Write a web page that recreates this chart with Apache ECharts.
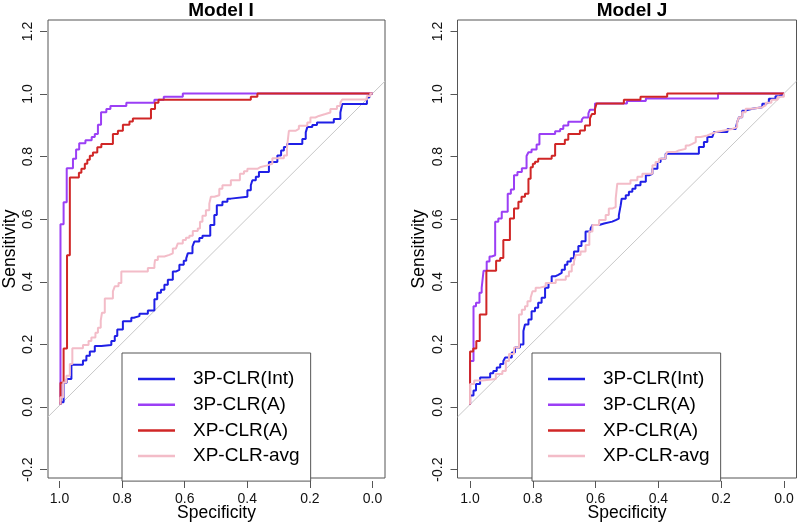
<!DOCTYPE html>
<html>
<head>
<meta charset="utf-8">
<script src="https://cdn.jsdelivr.net/npm/echarts@6/dist/echarts.min.js"></script>
<style>
html,body{margin:0;padding:0;background:#fff;}
#chart{width:799px;height:527px;}
</style>
</head>
<body>
<div id="chart"></div>
<script>
// ---- data ----
const panelTitles = ['Model I', 'Model J'];
const seriesNames = ['3P-CLR(Int)', '3P-CLR(A)', 'XP-CLR(A)', 'XP-CLR-avg'];
const specTickRange = [0, 1.0];      // x tick labels 1.0 ... 0.0 every 0.2
const sensTickRange = [-0.2, 1.2];   // y tick labels -0.2 ... 1.2 every 0.2
const tickStep = 0.2;
const chanceLine = [[1.04, -0.04], [-0.04, 1.04]];

// Model I  (specificity, sensitivity)
const modelI_int = [[1,0],[1,0.007],[0.99,0.007],[0.99,0.07],[0.98,0.07],[0.98,0.082],[0.965,0.082],[0.965,0.128],[0.928,0.128],[0.928,0.141],[0.917,0.141],[0.917,0.157],[0.906,0.157],[0.906,0.17],[0.89,0.17],[0.89,0.188],[0.869,0.188],[0.869,0.191],[0.837,0.191],[0.837,0.204],[0.826,0.204],[0.826,0.22],[0.818,0.22],[0.818,0.241],[0.80,0.241],[0.80,0.268],[0.773,0.268],[0.773,0.279],[0.765,0.279],[0.765,0.284],[0.747,0.284],[0.747,0.292],[0.72,0.292],[0.72,0.302],[0.699,0.302],[0.699,0.338],[0.69,0.338],[0.69,0.359],[0.678,0.359],[0.678,0.369],[0.667,0.369],[0.667,0.385],[0.656,0.385],[0.656,0.401],[0.64,0.401],[0.64,0.428],[0.629,0.428],[0.629,0.433],[0.619,0.433],[0.619,0.449],[0.605,0.449],[0.605,0.462],[0.597,0.462],[0.597,0.47],[0.592,0.47],[0.592,0.486],[0.577,0.486],[0.577,0.508],[0.571,0.508],[0.571,0.524],[0.555,0.524],[0.555,0.535],[0.545,0.535],[0.545,0.543],[0.52,0.543],[0.52,0.577],[0.507,0.577],[0.507,0.609],[0.499,0.609],[0.499,0.641],[0.481,0.641],[0.481,0.652],[0.465,0.652],[0.465,0.662],[0.454,0.662],[0.454,0.668],[0.401,0.668],[0.401,0.689],[0.39,0.689],[0.39,0.705],[0.385,0.705],[0.385,0.721],[0.374,0.721],[0.374,0.732],[0.364,0.732],[0.364,0.748],[0.332,0.748],[0.332,0.78],[0.305,0.78],[0.305,0.801],[0.293,0.801],[0.293,0.817],[0.284,0.817],[0.284,0.828],[0.274,0.828],[0.274,0.838],[0.225,0.838],[0.225,0.854],[0.214,0.854],[0.214,0.875],[0.209,0.875],[0.209,0.892],[0.193,0.892],[0.193,0.899],[0.178,0.899],[0.178,0.907],[0.124,0.907],[0.124,0.918],[0.103,0.918],[0.103,0.939],[0.097,0.939],[0.097,0.966],[0.018,0.966],[0.018,0.987],[0.01,0.987],[0.01,0.998],[0,1]];
const modelI_A = [[1,0],[1,0.58],[0.99,0.58],[0.99,0.65],[0.98,0.65],[0.98,0.76],[0.96,0.76],[0.96,0.79],[0.95,0.79],[0.95,0.82],[0.94,0.82],[0.94,0.84],[0.92,0.84],[0.92,0.85],[0.90,0.85],[0.90,0.86],[0.89,0.86],[0.89,0.87],[0.88,0.87],[0.88,0.90],[0.87,0.90],[0.87,0.94],[0.853,0.94],[0.853,0.95],[0.84,0.95],[0.84,0.96],[0.789,0.96],[0.789,0.97],[0.699,0.97],[0.699,0.98],[0.669,0.98],[0.669,0.99],[0.608,0.99],[0.608,1.0],[0,1.0]];
const modelI_xpA = [[1,0],[1,0.07],[0.99,0.07],[0.99,0.18],[0.979,0.18],[0.979,0.48],[0.97,0.48],[0.97,0.73],[0.941,0.73],[0.941,0.745],[0.933,0.745],[0.933,0.758],[0.922,0.758],[0.922,0.774],[0.914,0.774],[0.914,0.787],[0.906,0.787],[0.906,0.80],[0.896,0.80],[0.896,0.81],[0.882,0.81],[0.882,0.827],[0.869,0.827],[0.869,0.838],[0.832,0.838],[0.832,0.87],[0.816,0.87],[0.816,0.88],[0.80,0.88],[0.80,0.90],[0.779,0.90],[0.779,0.91],[0.768,0.91],[0.768,0.92],[0.71,0.92],[0.71,0.95],[0.697,0.95],[0.697,0.97],[0.686,0.97],[0.686,0.98],[0.39,0.98],[0.39,0.99],[0.369,0.99],[0.369,1.0],[0,1.0]];
const modelI_avg = [[1,0],[1,0.023],[0.991,0.023],[0.991,0.071],[0.981,0.071],[0.981,0.092],[0.97,0.092],[0.97,0.13],[0.962,0.13],[0.962,0.181],[0.928,0.181],[0.928,0.191],[0.91,0.191],[0.91,0.204],[0.901,0.204],[0.901,0.215],[0.888,0.215],[0.888,0.231],[0.88,0.231],[0.88,0.247],[0.871,0.247],[0.871,0.27],[0.867,0.27],[0.867,0.295],[0.858,0.295],[0.858,0.341],[0.832,0.341],[0.832,0.364],[0.826,0.364],[0.826,0.38],[0.814,0.38],[0.814,0.391],[0.805,0.391],[0.805,0.428],[0.72,0.428],[0.72,0.439],[0.699,0.439],[0.699,0.449],[0.697,0.449],[0.697,0.465],[0.688,0.465],[0.688,0.476],[0.667,0.476],[0.667,0.481],[0.651,0.481],[0.651,0.486],[0.64,0.486],[0.64,0.502],[0.63,0.502],[0.63,0.508],[0.624,0.508],[0.624,0.518],[0.608,0.518],[0.608,0.529],[0.598,0.529],[0.598,0.536],[0.587,0.536],[0.587,0.543],[0.576,0.543],[0.576,0.558],[0.56,0.558],[0.56,0.566],[0.553,0.566],[0.553,0.588],[0.545,0.588],[0.545,0.607],[0.534,0.607],[0.534,0.625],[0.523,0.625],[0.523,0.646],[0.518,0.646],[0.518,0.668],[0.507,0.668],[0.507,0.673],[0.491,0.673],[0.491,0.694],[0.481,0.694],[0.481,0.705],[0.454,0.705],[0.454,0.721],[0.425,0.721],[0.425,0.742],[0.412,0.742],[0.412,0.75],[0.401,0.75],[0.401,0.758],[0.369,0.758],[0.369,0.764],[0.358,0.764],[0.358,0.769],[0.337,0.769],[0.337,0.774],[0.321,0.774],[0.321,0.792],[0.284,0.792],[0.284,0.801],[0.274,0.801],[0.274,0.828],[0.268,0.828],[0.268,0.88],[0.247,0.88],[0.247,0.886],[0.236,0.886],[0.236,0.896],[0.209,0.896],[0.209,0.907],[0.199,0.907],[0.199,0.923],[0.183,0.923],[0.183,0.928],[0.172,0.928],[0.172,0.934],[0.151,0.934],[0.151,0.939],[0.135,0.939],[0.135,0.95],[0.114,0.95],[0.114,0.96],[0.103,0.96],[0.103,0.971],[0.097,0.971],[0.097,0.981],[0.018,0.981],[0.018,0.992],[0.007,0.992],[0.007,1],[0,1]];

// Model J
const modelJ_int = [[1,0],[1,0.029],[0.989,0.029],[0.989,0.045],[0.981,0.045],[0.981,0.066],[0.968,0.066],[0.968,0.087],[0.936,0.087],[0.936,0.1],[0.926,0.1],[0.926,0.108],[0.915,0.108],[0.915,0.119],[0.904,0.119],[0.904,0.13],[0.894,0.13],[0.894,0.14],[0.888,0.14],[0.888,0.151],[0.867,0.151],[0.867,0.167],[0.857,0.167],[0.857,0.183],[0.841,0.183],[0.841,0.193],[0.83,0.193],[0.83,0.236],[0.825,0.236],[0.825,0.257],[0.814,0.257],[0.814,0.273],[0.804,0.273],[0.804,0.3],[0.793,0.3],[0.793,0.311],[0.783,0.311],[0.783,0.327],[0.772,0.327],[0.772,0.343],[0.761,0.343],[0.761,0.375],[0.75,0.375],[0.75,0.391],[0.74,0.391],[0.74,0.412],[0.729,0.412],[0.729,0.417],[0.719,0.417],[0.719,0.423],[0.708,0.423],[0.708,0.433],[0.698,0.433],[0.698,0.449],[0.69,0.449],[0.69,0.46],[0.679,0.46],[0.679,0.47],[0.669,0.47],[0.669,0.492],[0.655,0.492],[0.655,0.51],[0.645,0.51],[0.645,0.525],[0.632,0.525],[0.632,0.556],[0.616,0.556],[0.616,0.566],[0.61,0.566],[0.61,0.577],[0.589,0.577],[0.589,0.582],[0.573,0.582],[0.573,0.588],[0.547,0.588],[0.547,0.593],[0.536,0.593],[0.536,0.598],[0.526,0.598],[0.526,0.609],[0.52,0.609],[0.52,0.641],[0.517,0.641],[0.517,0.662],[0.504,0.662],[0.504,0.673],[0.494,0.673],[0.494,0.684],[0.483,0.684],[0.483,0.694],[0.473,0.694],[0.473,0.705],[0.457,0.705],[0.457,0.716],[0.44,0.716],[0.44,0.737],[0.43,0.737],[0.43,0.742],[0.419,0.742],[0.419,0.758],[0.403,0.758],[0.403,0.78],[0.393,0.78],[0.393,0.79],[0.377,0.79],[0.377,0.806],[0.271,0.806],[0.271,0.828],[0.255,0.828],[0.255,0.844],[0.244,0.844],[0.244,0.86],[0.228,0.86],[0.228,0.865],[0.223,0.865],[0.223,0.876],[0.18,0.876],[0.18,0.886],[0.154,0.886],[0.154,0.892],[0.149,0.892],[0.149,0.908],[0.143,0.908],[0.143,0.924],[0.133,0.924],[0.133,0.945],[0.122,0.945],[0.122,0.951],[0.101,0.951],[0.101,0.956],[0.069,0.956],[0.069,0.967],[0.058,0.967],[0.058,0.972],[0.048,0.972],[0.048,0.983],[0.027,0.983],[0.027,0.991],[0.016,0.991],[0.016,0.996],[0,1]];
const modelJ_A = [[1,0],[1,0.14],[0.989,0.14],[0.989,0.316],[0.981,0.316],[0.981,0.327],[0.97,0.327],[0.97,0.359],[0.963,0.359],[0.963,0.375],[0.957,0.375],[0.957,0.43],[0.947,0.43],[0.947,0.46],[0.938,0.46],[0.938,0.476],[0.931,0.476],[0.931,0.48],[0.92,0.48],[0.92,0.588],[0.91,0.588],[0.91,0.598],[0.899,0.598],[0.899,0.62],[0.88,0.62],[0.88,0.678],[0.87,0.678],[0.87,0.691],[0.86,0.691],[0.86,0.737],[0.849,0.737],[0.849,0.748],[0.835,0.748],[0.835,0.76],[0.82,0.76],[0.82,0.799],[0.814,0.799],[0.814,0.811],[0.804,0.811],[0.804,0.82],[0.788,0.82],[0.788,0.836],[0.779,0.836],[0.779,0.87],[0.729,0.87],[0.729,0.879],[0.713,0.879],[0.713,0.886],[0.703,0.886],[0.703,0.897],[0.687,0.897],[0.687,0.909],[0.644,0.909],[0.644,0.916],[0.639,0.916],[0.639,0.923],[0.623,0.923],[0.623,0.936],[0.618,0.936],[0.618,0.948],[0.602,0.948],[0.602,0.968],[0.50,0.968],[0.50,0.976],[0.44,0.976],[0.44,0.984],[0.21,0.984],[0.21,1],[0,1]];
const modelJ_xpA = [[1,0],[1,0.17],[0.99,0.17],[0.99,0.18],[0.98,0.18],[0.98,0.204],[0.969,0.204],[0.969,0.289],[0.948,0.289],[0.948,0.43],[0.917,0.43],[0.917,0.462],[0.904,0.462],[0.904,0.471],[0.894,0.471],[0.894,0.529],[0.873,0.529],[0.873,0.598],[0.86,0.598],[0.86,0.63],[0.846,0.63],[0.846,0.652],[0.836,0.652],[0.836,0.668],[0.825,0.668],[0.825,0.678],[0.814,0.678],[0.814,0.726],[0.807,0.726],[0.807,0.763],[0.80,0.763],[0.80,0.774],[0.793,0.774],[0.793,0.781],[0.783,0.781],[0.783,0.79],[0.74,0.79],[0.74,0.80],[0.729,0.80],[0.729,0.838],[0.698,0.838],[0.698,0.851],[0.687,0.851],[0.687,0.87],[0.65,0.87],[0.65,0.881],[0.634,0.881],[0.634,0.897],[0.618,0.897],[0.618,0.92],[0.612,0.92],[0.612,0.934],[0.602,0.934],[0.602,0.95],[0.597,0.95],[0.597,0.968],[0.51,0.968],[0.51,0.98],[0.457,0.98],[0.457,0.99],[0.372,0.99],[0.372,1],[0,1]];
const modelJ_avg = [[1,0],[1,0.066],[0.987,0.066],[0.987,0.077],[0.961,0.077],[0.961,0.082],[0.918,0.082],[0.918,0.098],[0.897,0.098],[0.897,0.108],[0.886,0.108],[0.886,0.14],[0.876,0.14],[0.876,0.162],[0.86,0.162],[0.86,0.183],[0.844,0.183],[0.844,0.289],[0.835,0.289],[0.835,0.305],[0.825,0.305],[0.825,0.316],[0.817,0.316],[0.817,0.332],[0.807,0.332],[0.807,0.343],[0.801,0.343],[0.801,0.364],[0.791,0.364],[0.791,0.375],[0.78,0.375],[0.78,0.38],[0.759,0.38],[0.759,0.391],[0.727,0.391],[0.727,0.401],[0.695,0.401],[0.695,0.412],[0.685,0.412],[0.685,0.428],[0.676,0.428],[0.676,0.449],[0.669,0.449],[0.669,0.46],[0.663,0.46],[0.663,0.481],[0.648,0.481],[0.648,0.492],[0.632,0.492],[0.632,0.513],[0.62,0.513],[0.62,0.556],[0.61,0.556],[0.61,0.577],[0.589,0.577],[0.589,0.593],[0.568,0.593],[0.568,0.609],[0.558,0.609],[0.558,0.63],[0.547,0.63],[0.547,0.635],[0.536,0.635],[0.536,0.662],[0.531,0.662],[0.531,0.71],[0.489,0.71],[0.489,0.721],[0.467,0.721],[0.467,0.732],[0.451,0.732],[0.451,0.742],[0.419,0.742],[0.419,0.769],[0.409,0.769],[0.409,0.78],[0.398,0.78],[0.398,0.79],[0.377,0.79],[0.377,0.801],[0.372,0.801],[0.372,0.812],[0.345,0.812],[0.345,0.817],[0.335,0.817],[0.335,0.822],[0.313,0.822],[0.313,0.833],[0.302,0.833],[0.302,0.838],[0.292,0.838],[0.292,0.844],[0.281,0.844],[0.281,0.86],[0.265,0.86],[0.265,0.865],[0.244,0.865],[0.244,0.87],[0.233,0.87],[0.233,0.876],[0.217,0.876],[0.217,0.881],[0.191,0.881],[0.191,0.884],[0.175,0.884],[0.175,0.886],[0.165,0.886],[0.165,0.892],[0.149,0.892],[0.149,0.908],[0.143,0.908],[0.143,0.924],[0.133,0.924],[0.133,0.94],[0.122,0.94],[0.122,0.951],[0.101,0.951],[0.101,0.956],[0.069,0.956],[0.069,0.962],[0.058,0.962],[0.058,0.97],[0.04,0.97],[0.04,0.98],[0.02,0.98],[0.02,0.99],[0,0.99],[0,1]];

const panelData = [
  [modelI_int, modelI_A, modelI_xpA, modelI_avg],
  [modelJ_int, modelJ_A, modelJ_xpA, modelJ_avg]
];

// ---- styles / layout ----
const colors = ['#1f1fe6', '#9b3ff5', '#d02626', '#f3bcc8'];
const FONT = 'Liberation Sans, Arial, Helvetica, sans-serif';
const X_RANGE = [-0.04, 1.04];
const Y_RANGE = [-0.2365, 1.2365];
const gridBoxes = [
  {left: 47, top: 20, width: 338, height: 461},
  {left: 457.5, top: 20, width: 339, height: 461}
];
const legendPos = [{left: 122, top: 353}, {left: 532, top: 353}];

const chart = echarts.init(document.getElementById('chart'), null, {renderer: 'canvas'});
const fmt = v => (Math.round(v * 10) / 10).toFixed(1);

// tick grids: same scale as the plot grids but spanning exactly the tick range
const tickGrids = gridBoxes.map(g => {
  const xs = g.width / (X_RANGE[1] - X_RANGE[0]);
  const ys = g.height / (Y_RANGE[1] - Y_RANGE[0]);
  const left = g.left + (X_RANGE[1] - specTickRange[1]) * xs;      // inverse axis: 1.0 on the left
  const right = g.left + (X_RANGE[1] - specTickRange[0]) * xs;
  const top = g.top + (Y_RANGE[1] - sensTickRange[1]) * ys;
  const bottom = g.top + (Y_RANGE[1] - sensTickRange[0]) * ys;
  return {left, top, width: right - left, height: bottom - top,
          xOffset: (g.top + g.height) - bottom, yOffset: left - g.left};
});

const tickLabelStyle = {fontFamily: FONT, fontSize: 14, color: '#111'};

const option = {
  animation: false,
  backgroundColor: '#fff',
  title: panelTitles.map((t, i) => ({
    text: t,
    left: gridBoxes[i].left + gridBoxes[i].width / 2,
    top: -4,
    textAlign: 'center',
    textStyle: {fontFamily: FONT, fontWeight: 'bold', fontSize: 19, color: '#000'}
  })),
  grid: gridBoxes.map(g => Object.assign({show: true, borderColor: '#555', borderWidth: 1, backgroundColor: 'transparent'}, g))
    .concat(tickGrids.map(t => ({show: false, left: t.left, top: t.top, width: t.width, height: t.height}))),
  xAxis: gridBoxes.map((g, i) => ({
    gridIndex: i, type: 'value', inverse: true, min: X_RANGE[0], max: X_RANGE[1],
    name: 'Specificity', nameLocation: 'middle', nameGap: 26, nameMoveOverlap: false,
    nameTextStyle: {fontFamily: FONT, fontSize: 17.5, color: '#000'},
    axisLine: {show: false, onZero: false}, axisTick: {show: false},
    axisLabel: {show: false}, splitLine: {show: false}
  })).concat(tickGrids.map((t, i) => ({
    gridIndex: 2 + i, type: 'value', inverse: true,
    min: specTickRange[0], max: specTickRange[1], interval: tickStep,
    position: 'bottom', offset: t.xOffset,
    axisLine: {show: false, onZero: false},
    axisTick: {show: true, inside: false, length: 7, lineStyle: {color: '#555', width: 1}},
    axisLabel: Object.assign({show: true, formatter: fmt, margin: 11, showMinLabel: true, showMaxLabel: true}, tickLabelStyle),
    splitLine: {show: false}
  }))),
  yAxis: gridBoxes.map((g, i) => ({
    gridIndex: i, type: 'value', min: Y_RANGE[0], max: Y_RANGE[1],
    name: 'Sensitivity', nameLocation: 'middle', nameGap: 29, nameMoveOverlap: false,
    nameTextStyle: {fontFamily: FONT, fontSize: 17.5, color: '#000'},
    axisLine: {show: false, onZero: false}, axisTick: {show: false},
    axisLabel: {show: false}, splitLine: {show: false}
  })).concat(tickGrids.map((t, i) => ({
    gridIndex: 2 + i, type: 'value',
    min: sensTickRange[0], max: sensTickRange[1], interval: tickStep,
    position: 'left', offset: t.yOffset,
    axisLine: {show: false, onZero: false},
    axisTick: {show: true, inside: false, length: 7, lineStyle: {color: '#555', width: 1}},
    axisLabel: Object.assign({show: true, formatter: fmt, rotate: 90, margin: 12, showMinLabel: true, showMaxLabel: true}, tickLabelStyle),
    splitLine: {show: false}
  }))),
  legend: legendPos.map(p => ({
    left: p.left, top: p.top, orient: 'vertical',
    data: seriesNames.map((n, k) => ({name: n, icon: 'rect', itemStyle: {color: colors[k]}})),
    padding: [16, 11, 15, 16],
    itemWidth: 37, itemHeight: 2.5, itemGap: 5.7,
    borderColor: '#555', borderWidth: 1, backgroundColor: '#fff',
    selectedMode: false,
    textStyle: {fontFamily: FONT, fontSize: 19, lineHeight: 20, color: '#000', padding: [0, 0, 0, 13]}
  })),
  series: []
};

gridBoxes.forEach((g, i) => {
  option.series.push({
    type: 'line', name: 'chance', xAxisIndex: i, yAxisIndex: i,
    data: chanceLine, symbol: 'none', silent: true,
    lineStyle: {color: '#c8c8c8', width: 1}, z: 1
  });
  panelData[i].forEach((d, k) => {
    option.series.push({
      type: 'line', name: seriesNames[k], xAxisIndex: i, yAxisIndex: i,
      data: d, symbol: 'none', showSymbol: false,
      color: colors[k],
      lineStyle: {color: colors[k], width: 2},
      z: 2 + k
    });
  });
});

chart.setOption(option);
</script>
</body>
</html>
